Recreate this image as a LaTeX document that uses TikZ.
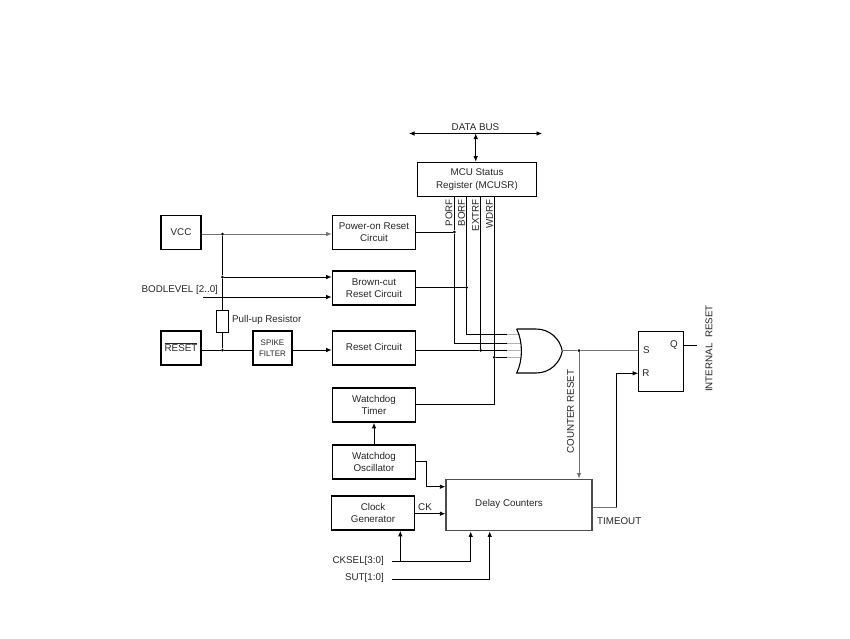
\documentclass[tikz,border=0pt]{standalone}
\usepackage{fontspec}
\setmainfont{Liberation Sans}
\usepackage{tikz}
\usetikzlibrary{arrows.meta}

\tikzset{
	blockbox/.style={draw,line width=1.7pt,inner sep=0pt,align=center,text=black!85,font=\fontsize{9.8}{12}\selectfont},
	sigtext/.style={inner sep=0pt,text=black!85,font=\fontsize{9.8}{11}\selectfont},
	wire/.style={line width=0.8pt},
	greywire/.style={line width=0.8pt,draw=black!55},
	stubwire/.style={line width=1pt,draw=black!30},
	jdot/.style={circle,fill,inner sep=0pt,minimum size=3pt},
	>={Latex[length=5.5pt,width=4.5pt]},
}

\begin{document}
\begin{tikzpicture}[x=1pt,y=-1pt]
	\useasboundingbox (0,0) rectangle (850,638);
	% status register and bus
	\node[blockbox,minimum width=119pt,minimum height=34pt] (mcusr) at (477,179.5) {MCU Status\\[0.6pt]Register (MCUSR)};
	\coordinate (busl) at (409,133.5);
	\coordinate (busr) at (542,133.5);
	\coordinate (busj) at (475.7,133.5);
	\node[sigtext] (databus) at (475.5,127) {DATA BUS};
		\draw[wire,<->] (busl)--(busr);
		\draw[wire,<->] (busj)--(busj |- mcusr.north);
	\node[sigtext,rotate=90,anchor=east] (porftxt) at (449,199) {PORF};
	\node[sigtext,rotate=90,anchor=east] (borftxt) at (461.5,199) {BORF};
	\node[sigtext,rotate=90,anchor=east] (extrftxt) at (475.5,199) {EXTRF};
	\node[sigtext,rotate=90,anchor=east] (wdrftxt) at (489.5,199) {WDRF};
	%
	\node[blockbox,minimum width=40pt,minimum height=34pt] (vcc) at (181,232.5) {VCC};
	\node[blockbox,minimum width=83pt,minimum height=34pt] (por) at (374,232.5) {Power-on Reset\\Circuit};
	\node[blockbox,minimum width=83pt,minimum height=34pt] (bod) at (374,288) {Brown-cut\\Reset Circuit};
	\node[sigtext,anchor=west] (bodlevel) at (141.5,290) {BODLEVEL [2..0]};
	\coordinate (bodin) at (203,297);
	\node[draw,line width=0.8pt,minimum width=12pt,minimum height=21.5pt,inner sep=0pt] (pullup) at (222.5,321.5) {};
	\node[sigtext,anchor=west] (pulluptxt) at (232,319.5) {Pull-up Resistor};
	\node[blockbox,minimum width=40pt,minimum height=34pt] (rst) at (181,348) {\raisebox{2pt}{$\overline{\mbox{RESET}}$}};
	\node[blockbox,minimum width=39pt,minimum height=34pt,font=\fontsize{8}{11.5}\selectfont] (spike) at (272.5,348) {SPIKE\\FILTER};
	\node[blockbox,minimum width=83pt,minimum height=34pt] (rstc) at (374,348) {\raisebox{2pt}{Reset Circuit}};
	%
	\node[jdot] (jvcc) at (222.5,234) {};
	\node[jdot] (jbod) at (222.5,277) {};
	\node[jdot] (jrst) at (222.5,350) {};
		\draw[greywire] (vcc.east |- jvcc)--(jvcc);
		\draw[greywire,->] (jvcc)--(por.west |- jvcc);
		\draw[wire] (jvcc)--(jbod);
		\draw[wire] (jbod)--(pullup.north);
		\draw[wire] (pullup.south)--(jrst);
		\draw[wire,->] (jbod)--(bod.west |- jbod);
		\draw[wire,->] (bodin)--(bod.west |- bodin);
		\draw[wire] (rst.east |- jrst)--(jrst);
		\draw[wire] (jrst)--(spike.west |- jrst);
		\draw[wire,->] (spike.east |- jrst)--(rstc.west |- jrst);
	%
	\node[blockbox,minimum width=83pt,minimum height=34pt] (wdt) at (374,405) {Watchdog\\Timer};
	\node[blockbox,minimum width=83pt,minimum height=34pt] (osc) at (374,462) {Watchdog\\Oscillator};
	\node[blockbox,minimum width=83pt,minimum height=34pt] (clk) at (373,513) {Clock\\Generator};
	\node[draw=black!70,line width=1.3pt,minimum width=146pt,minimum height=51.5pt,inner sep=0pt] (delay) at (519,505) {};
	\node[sigtext] (delaytxt) at (509,504) {Delay Counters};
	\node[sigtext] (cktxt) at (425,507) {CK};
	\node[sigtext,anchor=west] (timeout) at (597,521.5) {TIMEOUT};
	\node[sigtext,anchor=east] (cksel) at (384,560.5) {CKSEL[3:0]};
	\node[sigtext,anchor=east] (sut) at (384,577.5) {SUT[1:0]};
	\coordinate (ckselin) at (391.7,561.5);
	\coordinate (sutin) at (391.7,579.5);
		\draw[wire,->] (osc)--(wdt);
		\draw[wire,->] (osc.east |- 0,461.7)-|(426.3,486.7)--(delay.west |- 0,486.7);
		\draw[wire,->] (clk.east |- 0,513.7)--(delay.west |- 0,513.7);
		\draw[wire,->] (400.3,561.5)--(clk.south -| 400.3,0);
		\draw[wire,->] (ckselin)-|(delay.south -| 470.7,0);
		\draw[wire,->] (sutin)-|(delay.south -| 489.7,0);
	%
	% or gate
	\coordinate (gst1) at (507,334);
	\coordinate (gst2) at (507,343.3);
	\coordinate (gst3) at (507,350.3);
	\coordinate (gst4) at (507,357.3);
	\coordinate (gin1) at (519.5,334);
	\coordinate (gin2) at (521,343.3);
	\coordinate (gin3) at (521,350.3);
	\coordinate (gin4) at (520.5,357.3);
	\coordinate (gout) at (562.3,351);
		\draw[stubwire] (gst1)--(gin1);
		\draw[stubwire] (gst2)--(gin2);
		\draw[stubwire] (gst3)--(gin3);
		\draw[stubwire] (gst4)--(gin4);
	\draw[line width=1.1pt] (516.7,329)--(536,329) .. controls (550,329) and (560,339) .. (gout) .. controls (560,363) and (550,373) .. (536,373)--(516.7,373) .. controls (523,360) and (523,342) .. (516.7,329);
	%
	\node[jdot] (jporf) at (454.3,232) {};
	\node[jdot] (jborf) at (466.7,287.5) {};
	\node[jdot] (jextrf) at (480.7,350.3) {};
	\node[jdot] (jwdrf) at (494.3,357.3) {};
		\draw[wire] (por.east |- jporf)--(jporf);
		\draw[wire] (bod.east |- jborf)--(jborf);
		\draw[wire] (rstc.east |- jextrf)--(jextrf);
		\draw[wire] (mcusr.south -| jporf)--(jporf);
		\draw[wire] (mcusr.south -| jborf)--(jborf);
		\draw[wire] (mcusr.south -| jextrf)--(jextrf);
		\draw[wire] (mcusr.south -| jwdrf)--(jwdrf);
		\draw[wire] (jporf)|-(gst2);
		\draw[wire] (jborf)|-(gst1);
		\draw[wire] (jextrf)--(gst3);
		\draw[wire] (jwdrf)--(gst4);
		\draw[wire] (wdt.east |- 0,404)-|(jwdrf);
	%
	% latch
	\node[draw,line width=1.1pt,minimum width=44.5pt,minimum height=59.5pt,inner sep=0pt] (latch) at (661,361.5) {};
	\node[sigtext] (stxt) at (646.5,350) {S};
	\node[sigtext] (rtxt) at (646,373) {R};
	\node[sigtext] (qtxt) at (674,345) {Q};
	\coordinate (qout) at (696.7,345);
	\node[sigtext,rotate=90] (intrst) at (709,348.5) {INTERNAL\ \ RESET};
	\node[sigtext,rotate=90] (cntrst) at (570.5,411.5) {COUNTER RESET};
	\node[jdot] (jcnt) at (579,350.7) {};
		\draw[greywire] (gout |- jcnt)--(jcnt);
		\draw[greywire] (jcnt)--(latch.west |- jcnt);
		\draw[greywire,->] (jcnt)--(delay.north -| jcnt);
		\draw[wire] (latch.east |- qout)--(qout);
		\draw[greywire] (delay.east |- 0,507)--(616.5,507);
		\draw[wire,->] (616.5,507)|-(latch.west |- 0,373.3);
\end{tikzpicture}
\end{document}
